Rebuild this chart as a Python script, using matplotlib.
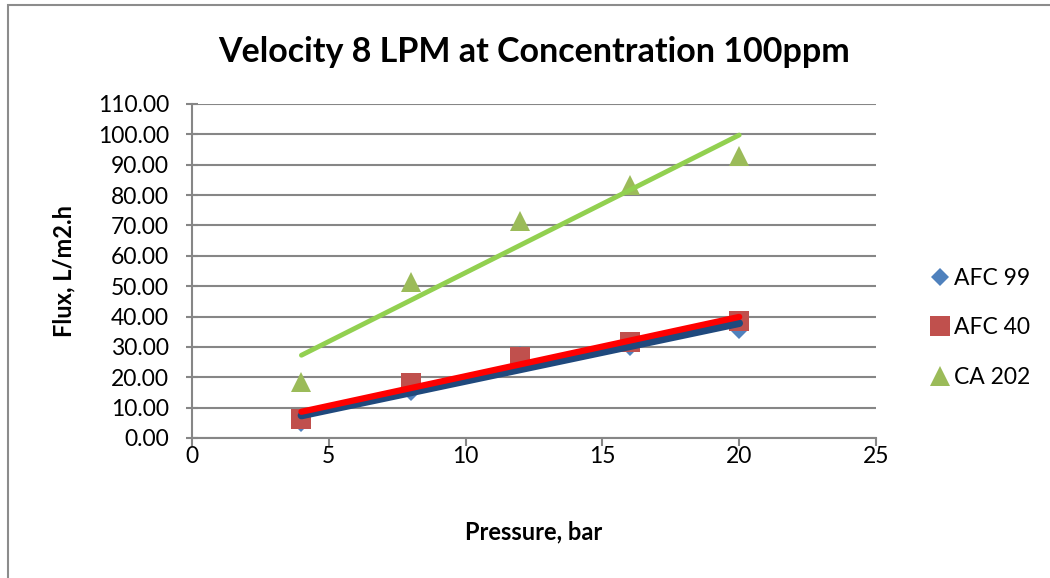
import matplotlib.pyplot as plt
import numpy as np
from matplotlib.patches import Rectangle

pressure = [4, 8, 12, 16, 20]
afc99 = [5.0, 15.0, 27.5, 30.0, 35.5]
afc40 = [6.3, 18.1, 26.7, 31.6, 38.6]
ca202 = [18.4, 51.3, 71.5, 83.4, 93.0]

plt.rcParams['font.family'] = ['Lato', 'DejaVu Sans']

fig = plt.figure(figsize=(10.5, 5.78), dpi=100)
fig.patches.append(Rectangle((8/1050, -0.01), 1.1, 1 - 5/578 + 0.01, transform=fig.transFigure,
                             fill=False, edgecolor='#8c8c8c', lw=1.5))
ax = fig.add_axes([192/1050, 1 - 438/578, 684/1050, 334/578])

x = np.array(pressure)
series = [
    ('AFC 99', afc99, 'D', 9, '#4F81BD', '#1F497D', 5.5),
    ('AFC 40', afc40, 's', 14, '#C0504D', '#FF0000', 4.5),
    ('CA 202', ca202, '^', 14, '#9BBB59', '#92D050', 3.5),
]
for name, vals, mk, ms, col, lcol, lw in series:
    ax.plot(x, vals, linestyle='none', marker=mk, markersize=ms, color=col,
            markeredgewidth=0, label=name, zorder=3)
# linear trendlines
for name, vals, mk, ms, col, lcol, lw in series:
    k, b = np.polyfit(x, vals, 1)
    xs = np.array([x.min(), x.max()])
    ax.plot(xs, k * xs + b, color=lcol, lw=lw, solid_capstyle='round', zorder=4)

ax.set_xlim(0, 25)
ax.set_ylim(0, 110)
ax.set_xticks(np.arange(0, 26, 5))
ax.set_yticks(np.arange(0, 111, 10))
ax.set_yticklabels(['%.2f' % v for v in np.arange(0, 111, 10)])
ax.yaxis.grid(True, color='#868686', lw=1.5)
ax.set_axisbelow(True)
for s in ['top', 'right']:
    ax.spines[s].set_visible(False)
for s in ['left', 'bottom']:
    ax.spines[s].set_color('#868686')
    ax.spines[s].set_linewidth(1.5)
ax.tick_params(axis='y', direction='inout', length=9, width=1.5, color='#868686',
               labelsize=16.5, pad=12)
ax.tick_params(axis='x', direction='out', length=6, width=1.5, color='#868686',
               labelsize=16.5, pad=0)

ax.set_title('Velocity 8 LPM at Concentration 100ppm', fontsize=24.5, fontweight='bold', pad=30)
ax.set_xlabel('Pressure, bar', fontsize=17, fontweight='bold', labelpad=38)
ax.set_ylabel('Flux, L/m2.h', fontsize=17, fontweight='bold', labelpad=16)

ax.legend(loc='center left', bbox_to_anchor=(1.045, 0.33), frameon=False, fontsize=16.5,
          handletextpad=0.05, labelspacing=1.25, handlelength=1.1, markerscale=1.0)

plt.savefig('out.png', dpi=100)
